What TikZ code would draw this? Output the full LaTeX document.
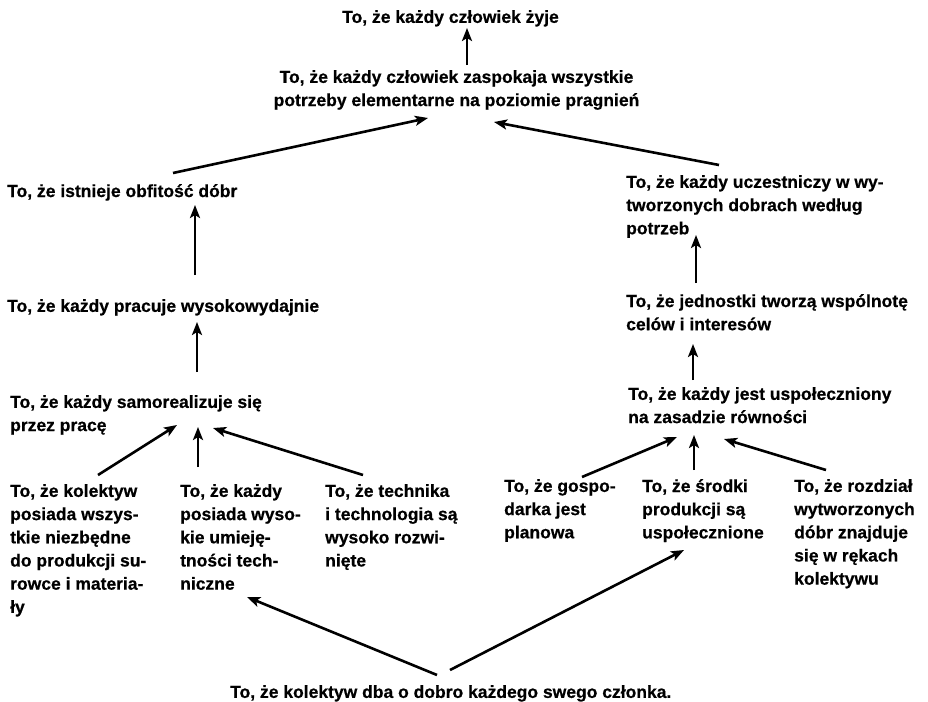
\documentclass[tikz,border=0pt]{standalone}
\usepackage{fontspec}
\setmainfont{Liberation Sans}[BoldFeatures={FakeBold=0.6}]
\usetikzlibrary{arrows.meta}

\begin{document}
\begin{tikzpicture}[x=1pt, y=1pt]
    \tikzstyle{goal} = [anchor=north west, inner sep=0pt, align=left,
        font=\fontsize{17.5}{23.2}\selectfont\bfseries]
    \tikzstyle{arr} = [-{Stealth[length=13pt, width=10pt, inset=3pt]}, line width=2.6pt]

    \useasboundingbox (0,0) rectangle (928,-701);

    % top of the tree
    \node [goal] (zyje) at (342,-10) {To, że każdy człowiek żyje};
    \node [goal, anchor=north, align=center] (potrz) at (456.5,-70) {To, że każdy człowiek zaspokaja wszystkie\\potrzeby elementarne na poziomie pragnień};

    % left branch
    \node [goal] (obfit) at (7,-184) {To, że istnieje obfitość dóbr};
    \node [goal] (wydaj) at (7,-299) {To, że każdy pracuje wysokowydajnie};
    \node [goal] (samor) at (10,-395) {To, że każdy samorealizuje się\\przez pracę};
    \node [goal] (kolek) at (10,-484) {To, że kolektyw\\posiada wszys-\\tkie niezbędne\\do produkcji su-\\rowce i materia-\\ły};
    \node [goal] (umiej) at (180,-484) {To, że każdy\\posiada wyso-\\kie umieję-\\tności tech-\\niczne};
    \node [goal] (techn) at (325,-484) {To, że technika\\i technologia są\\wysoko rozwi-\\nięte};

    % right branch
    \node [goal] (uczes) at (626,-175) {To, że każdy uczestniczy w wy-\\tworzonych dobrach według\\potrzeb};
    \node [goal] (wspol) at (626,-294) {To, że jednostki tworzą wspólnotę\\celów i interesów};
    \node [goal] (uspol) at (628,-387) {To, że każdy jest uspołeczniony\\na zasadzie równości};
    \node [goal] (plan) at (504,-479) {To, że gospo-\\darka jest\\planowa};
    \node [goal] (srodk) at (642,-479) {To, że środki\\produkcji są\\uspołecznione};
    \node [goal] (rozdz) at (794,-479) {To, że rozdział\\wytworzonych\\dóbr znajduje\\się w rękach\\kolektywu};

    % bottom
    \node [goal] (dba) at (230,-685) {To, że kolektyw dba o dobro każdego swego członka.};

    \draw [arr] ([shift={(10.5,5)}]potrz.north) -- ([shift={(125,-18)}]zyje.north west);
    \draw [arr] ([shift={(166,11)}]obfit.north west) -- ([shift={(-28.5,-48)}]potrz.north);
    \draw [arr] ([shift={(93,10)}]uczes.north west) -- ([shift={(37.5,-52)}]potrz.north);

    \draw [arr] ([shift={(188,24)}]wydaj.north west) -- ([shift={(188,-21)}]obfit.north west);
    \draw [arr] ([shift={(187,23)}]samor.north west) -- ([shift={(190,-23)}]wydaj.north west);
    \draw [arr] ([shift={(88,9)}]kolek.north west) -- ([shift={(167,-30)}]samor.north west);
    \draw [arr] ([shift={(18,17)}]umiej.north west) -- ([shift={(188,-32)}]samor.north west);
    \draw [arr] ([shift={(38,9)}]techn.north west) -- ([shift={(203,-33)}]samor.north west);

    \draw [arr] ([shift={(70,11)}]wspol.north west) -- ([shift={(70,-60)}]uczes.north west);
    \draw [arr] ([shift={(65,7)}]uspol.north west) -- ([shift={(67,-50)}]wspol.north west);
    \draw [arr] ([shift={(78,2)}]plan.north west) -- ([shift={(49,-50)}]uspol.north west);
    \draw [arr] ([shift={(52,9)}]srodk.north west) -- ([shift={(66,-48)}]uspol.north west);
    \draw [arr] ([shift={(32,9)}]rozdz.north west) -- ([shift={(96,-52)}]uspol.north west);

    \draw [arr] ([shift={(207,10)}]dba.north west) -- ([shift={(67,-113)}]umiej.north west);
    \draw [arr] ([shift={(220,15)}]dba.north west) -- ([shift={(42,-71)}]srodk.north west);
\end{tikzpicture}
\end{document}
